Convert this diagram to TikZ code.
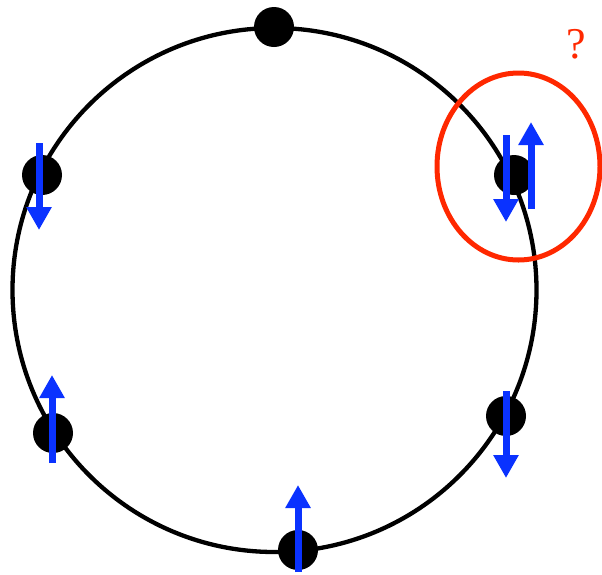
\documentclass[tikz,border=0pt]{standalone}
\usepackage{fontspec}
\setmainfont{Liberation Serif}
\usetikzlibrary{arrows.meta}
\definecolor{spinblue}{RGB}{10,50,255}
\definecolor{qred}{RGB}{255,40,0}
\begin{document}
\begin{tikzpicture}[x=1pt,y=-1pt,
  site/.style={circle,fill=black,inner sep=0pt,minimum size=40pt},
  spin/.style={draw=spinblue,line width=7pt,-{Triangle[length=23pt,width=24pt]}}]
\useasboundingbox (0,0) rectangle (602,574);
\draw[line width=4.3pt] (274.5,290) circle [radius=262];
\node[site] (top) at (274,27) {};
\node[site] (left) at (42,175) {};
\node[site] (right) at (514,175) {};
\node[site] (bl) at (53,433) {};
\node[site] (br) at (506,416) {};
\node[site] (bottom) at (298,550) {};
\draw[spin] (39,143) -- (39,230);
\draw[spin] (506,135) -- (506,222);
\draw[spin] (531,209) -- (531,122);
\draw[spin] (52,463) -- (52,375);
\draw[spin] (506,391) -- (506,478);
\draw[spin] (298,572) -- (298,485);
\draw[qred,line width=5pt] (518.5,166.5) ellipse [x radius=81.5, y radius=93.5];
\node[text=qred,font=\fontsize{44}{44}\selectfont] (q) at (576,44) {?};
\end{tikzpicture}
\end{document}
